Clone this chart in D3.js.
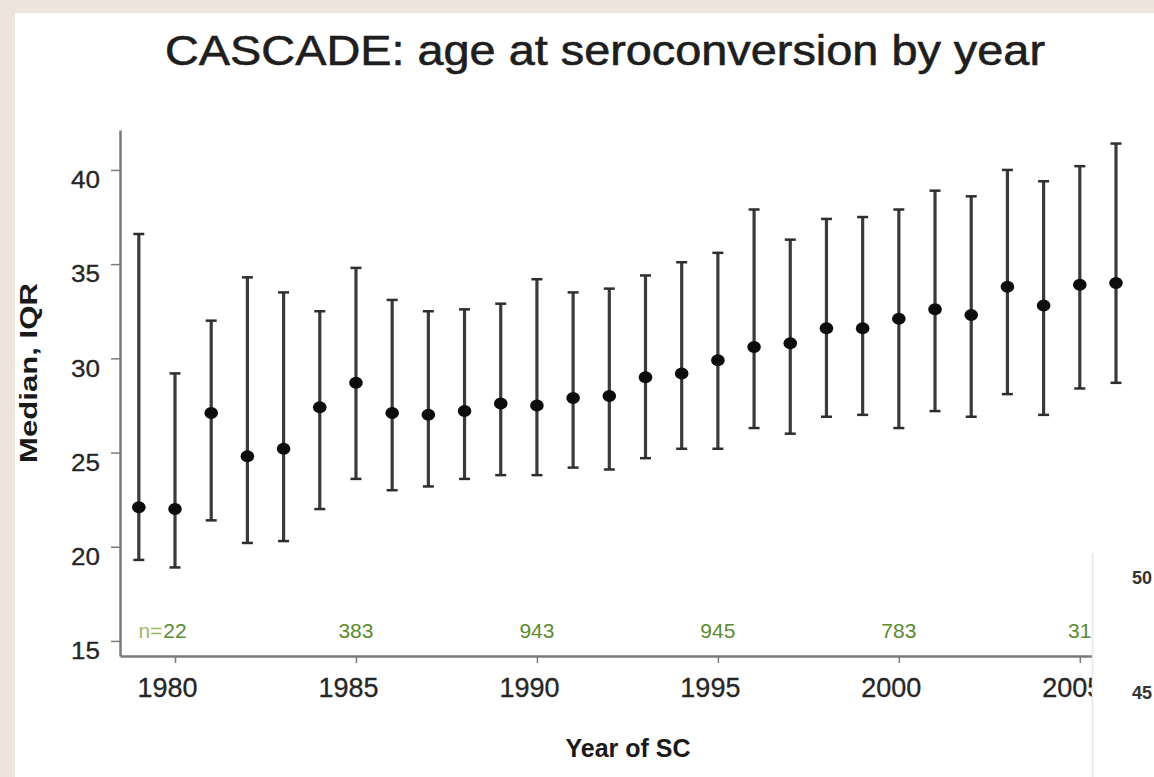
<!DOCTYPE html>
<html>
<head>
<meta charset="utf-8">
<script src="https://cdn.jsdelivr.net/npm/d3@7"></script>
<style>
  html, body { margin: 0; padding: 0; background: #ffffff; }
  svg { display: block; }
  text { font-family: "Liberation Sans", Arial, Helvetica, sans-serif; }
</style>
</head>
<body>
<svg id="chart" width="1154" height="777"></svg>
<script>
// Year of seroconversion
const years = [1979, 1980, 1981, 1982, 1983, 1984, 1985, 1986, 1987, 1988, 1989, 1990, 1991, 1992,
               1993, 1994, 1995, 1996, 1997, 1998, 1999, 2000, 2001, 2002, 2003, 2004, 2005, 2006];
// Median age at seroconversion
const medians = [22.1, 22.0, 27.1, 24.8, 25.2, 27.4, 28.7, 27.1, 27.0, 27.2, 27.6, 27.5, 27.9, 28.0,
                 29.0, 29.2, 29.9, 30.6, 30.8, 31.6, 31.6, 32.1, 32.6, 32.3, 33.8, 32.8, 33.9, 34.0];
// Lower quartile
const q1 = [19.3, 18.9, 21.4, 20.2, 20.3, 22.0, 23.6, 23.0, 23.2, 23.6, 23.8, 23.8, 24.2, 24.1,
            24.7, 25.2, 25.2, 26.3, 26.0, 26.9, 27.0, 26.3, 27.2, 26.9, 28.1, 27.0, 28.4, 28.7];
// Upper quartile
const q3 = [36.6, 29.2, 32.0, 34.3, 33.5, 32.5, 34.8, 33.1, 32.5, 32.6, 32.9, 34.2, 33.5, 33.7,
            34.4, 35.1, 35.6, 37.9, 36.3, 37.4, 37.5, 37.9, 38.9, 38.6, 40.0, 39.4, 40.2, 41.4];

// Number of seroconverters printed along the bottom of the plot
const nYears  = [1980, 1985, 1990, 1995, 2000, 2005];
const nLabels = ["22", "383", "943", "945", "783", "31"];

const yTicks = [15, 20, 25, 30, 35, 40];
const xTicks = [1980, 1985, 1990, 1995, 2000, 2005];

// Labels of the neighbouring panel at the lower right
const sideTicks = ["50", "45"];

const svg = d3.select("#chart");
const W = 1154, H = 777;

// Page background with the white graph region
svg.append("rect").attr("width", W).attr("height", H).attr("fill", "#ede5dd");
svg.append("rect").attr("x", 15).attr("y", 13).attr("width", W - 15).attr("height", H - 13)
   .attr("fill", "#ffffff");

const x = d3.scaleLinear().domain([1978.48, 2007.52]).range([120, 1171]);
const y = d3.scaleLinear().domain([14.2, 42.12]).range([656, 130]);

const axisColor = "#7a7a7a";
const textColor = "#262626";

// Title
svg.append("text")
   .attr("x", 605).attr("y", 65)
   .attr("text-anchor", "middle")
   .attr("font-size", 42)
   .attr("textLength", 880)
   .attr("lengthAdjust", "spacingAndGlyphs")
   .attr("fill", "#1e1e1e")
   .attr("stroke", "#1e1e1e")
   .attr("stroke-width", 0.6)
   .text("CASCADE: age at seroconversion by year");

// Y axis
const yAxis = svg.append("g")
   .attr("transform", "translate(120,0)")
   .call(d3.axisLeft(y).tickValues(yTicks).tickSize(9).tickSizeOuter(0).tickPadding(11));
yAxis.select(".domain").attr("stroke", axisColor).attr("stroke-width", 2.5);
yAxis.selectAll(".tick line").attr("stroke", axisColor).attr("stroke-width", 1.5);
yAxis.selectAll(".tick text")
   .attr("y", 10)
   .attr("font-size", 24)
   .attr("textLength", 29)
   .attr("lengthAdjust", "spacingAndGlyphs")
   .attr("fill", textColor)
   .attr("stroke", textColor)
   .attr("stroke-width", 0.3)
   .style("font-family", "'Liberation Sans', Arial, sans-serif");

// X axis
const xAxis = svg.append("g")
   .attr("transform", "translate(0,656)")
   .call(d3.axisBottom(x).tickValues(xTicks).tickFormat(d3.format("d"))
           .tickSize(7).tickSizeOuter(0).tickPadding(15));
xAxis.select(".domain").attr("stroke", axisColor).attr("stroke-width", 2.5);
xAxis.selectAll(".tick line").attr("stroke", axisColor).attr("stroke-width", 1.5);
xAxis.selectAll(".tick text")
   .attr("x", -8)
   .attr("font-size", 27)
   .attr("fill", textColor)
   .attr("stroke", textColor)
   .attr("stroke-width", 0.3)
   .style("font-family", "'Liberation Sans', Arial, sans-serif");

// Axis titles
svg.append("text")
   .attr("transform", "translate(37,373) rotate(-90)")
   .attr("text-anchor", "middle")
   .attr("font-size", 24)
   .attr("font-weight", "bold")
   .attr("textLength", 180)
   .attr("lengthAdjust", "spacingAndGlyphs")
   .attr("fill", "#1a1a1a")
   .text("Median, IQR");

svg.append("text")
   .attr("x", 628).attr("y", 757)
   .attr("text-anchor", "middle")
   .attr("font-size", 25)
   .attr("font-weight", "bold")
   .attr("fill", "#1a1a1a")
   .text("Year of SC");

// Interquartile ranges with medians
const rows = years.map((yr, i) => ({ yr, med: medians[i], lo: q1[i], hi: q3[i] }));
const bars = svg.append("g").selectAll("g").data(rows).join("g");
bars.append("line")
   .attr("x1", d => x(d.yr)).attr("x2", d => x(d.yr))
   .attr("y1", d => y(d.lo)).attr("y2", d => y(d.hi))
   .attr("stroke", "#3a3a3a").attr("stroke-width", 3.2);
["lo", "hi"].forEach(k => {
  bars.append("line")
     .attr("x1", d => x(d.yr) - 5.5).attr("x2", d => x(d.yr) + 5.5)
     .attr("y1", d => y(d[k])).attr("y2", d => y(d[k]))
     .attr("stroke", "#2e2e2e").attr("stroke-width", 2.5);
});
bars.append("ellipse")
   .attr("cx", d => x(d.yr)).attr("cy", d => y(d.med))
   .attr("rx", 6.8).attr("ry", 6)
   .attr("fill", "#0d0d0d");

// Counts along the bottom of the plot
const nGroup = svg.append("g");
const nText = nGroup.selectAll("text").data(nYears).join("text")
   .attr("x", d => x(d)).attr("y", 638)
   .attr("text-anchor", "middle")
   .attr("font-size", 21)
   .attr("fill", "#5b8a2f")
   .text((d, i) => nLabels[i]);
const firstW = nText.node().getComputedTextLength();
nGroup.append("text")
   .attr("x", x(nYears[0]) - firstW / 2 - 1).attr("y", 638)
   .attr("text-anchor", "end")
   .attr("font-size", 21)
   .attr("fill", "#9dbb66")
   .text("n=");

// Neighbouring panel overlapping the lower right corner
const side = svg.append("g");
side.append("rect").attr("x", 1092).attr("y", 553).attr("width", W - 1092).attr("height", H - 553)
   .attr("fill", "#ffffff");
side.append("line").attr("x1", 1092.5).attr("x2", 1092.5).attr("y1", 553).attr("y2", H)
   .attr("stroke", "#e6e6e6").attr("stroke-width", 1.5);
side.selectAll("text").data(sideTicks).join("text")
   .attr("x", 1152).attr("y", (d, i) => 584 + i * 115)
   .attr("text-anchor", "end")
   .attr("font-size", 18)
   .attr("font-weight", "bold")
   .attr("fill", "#333333")
   .text(d => d);
</script>
</body>
</html>
